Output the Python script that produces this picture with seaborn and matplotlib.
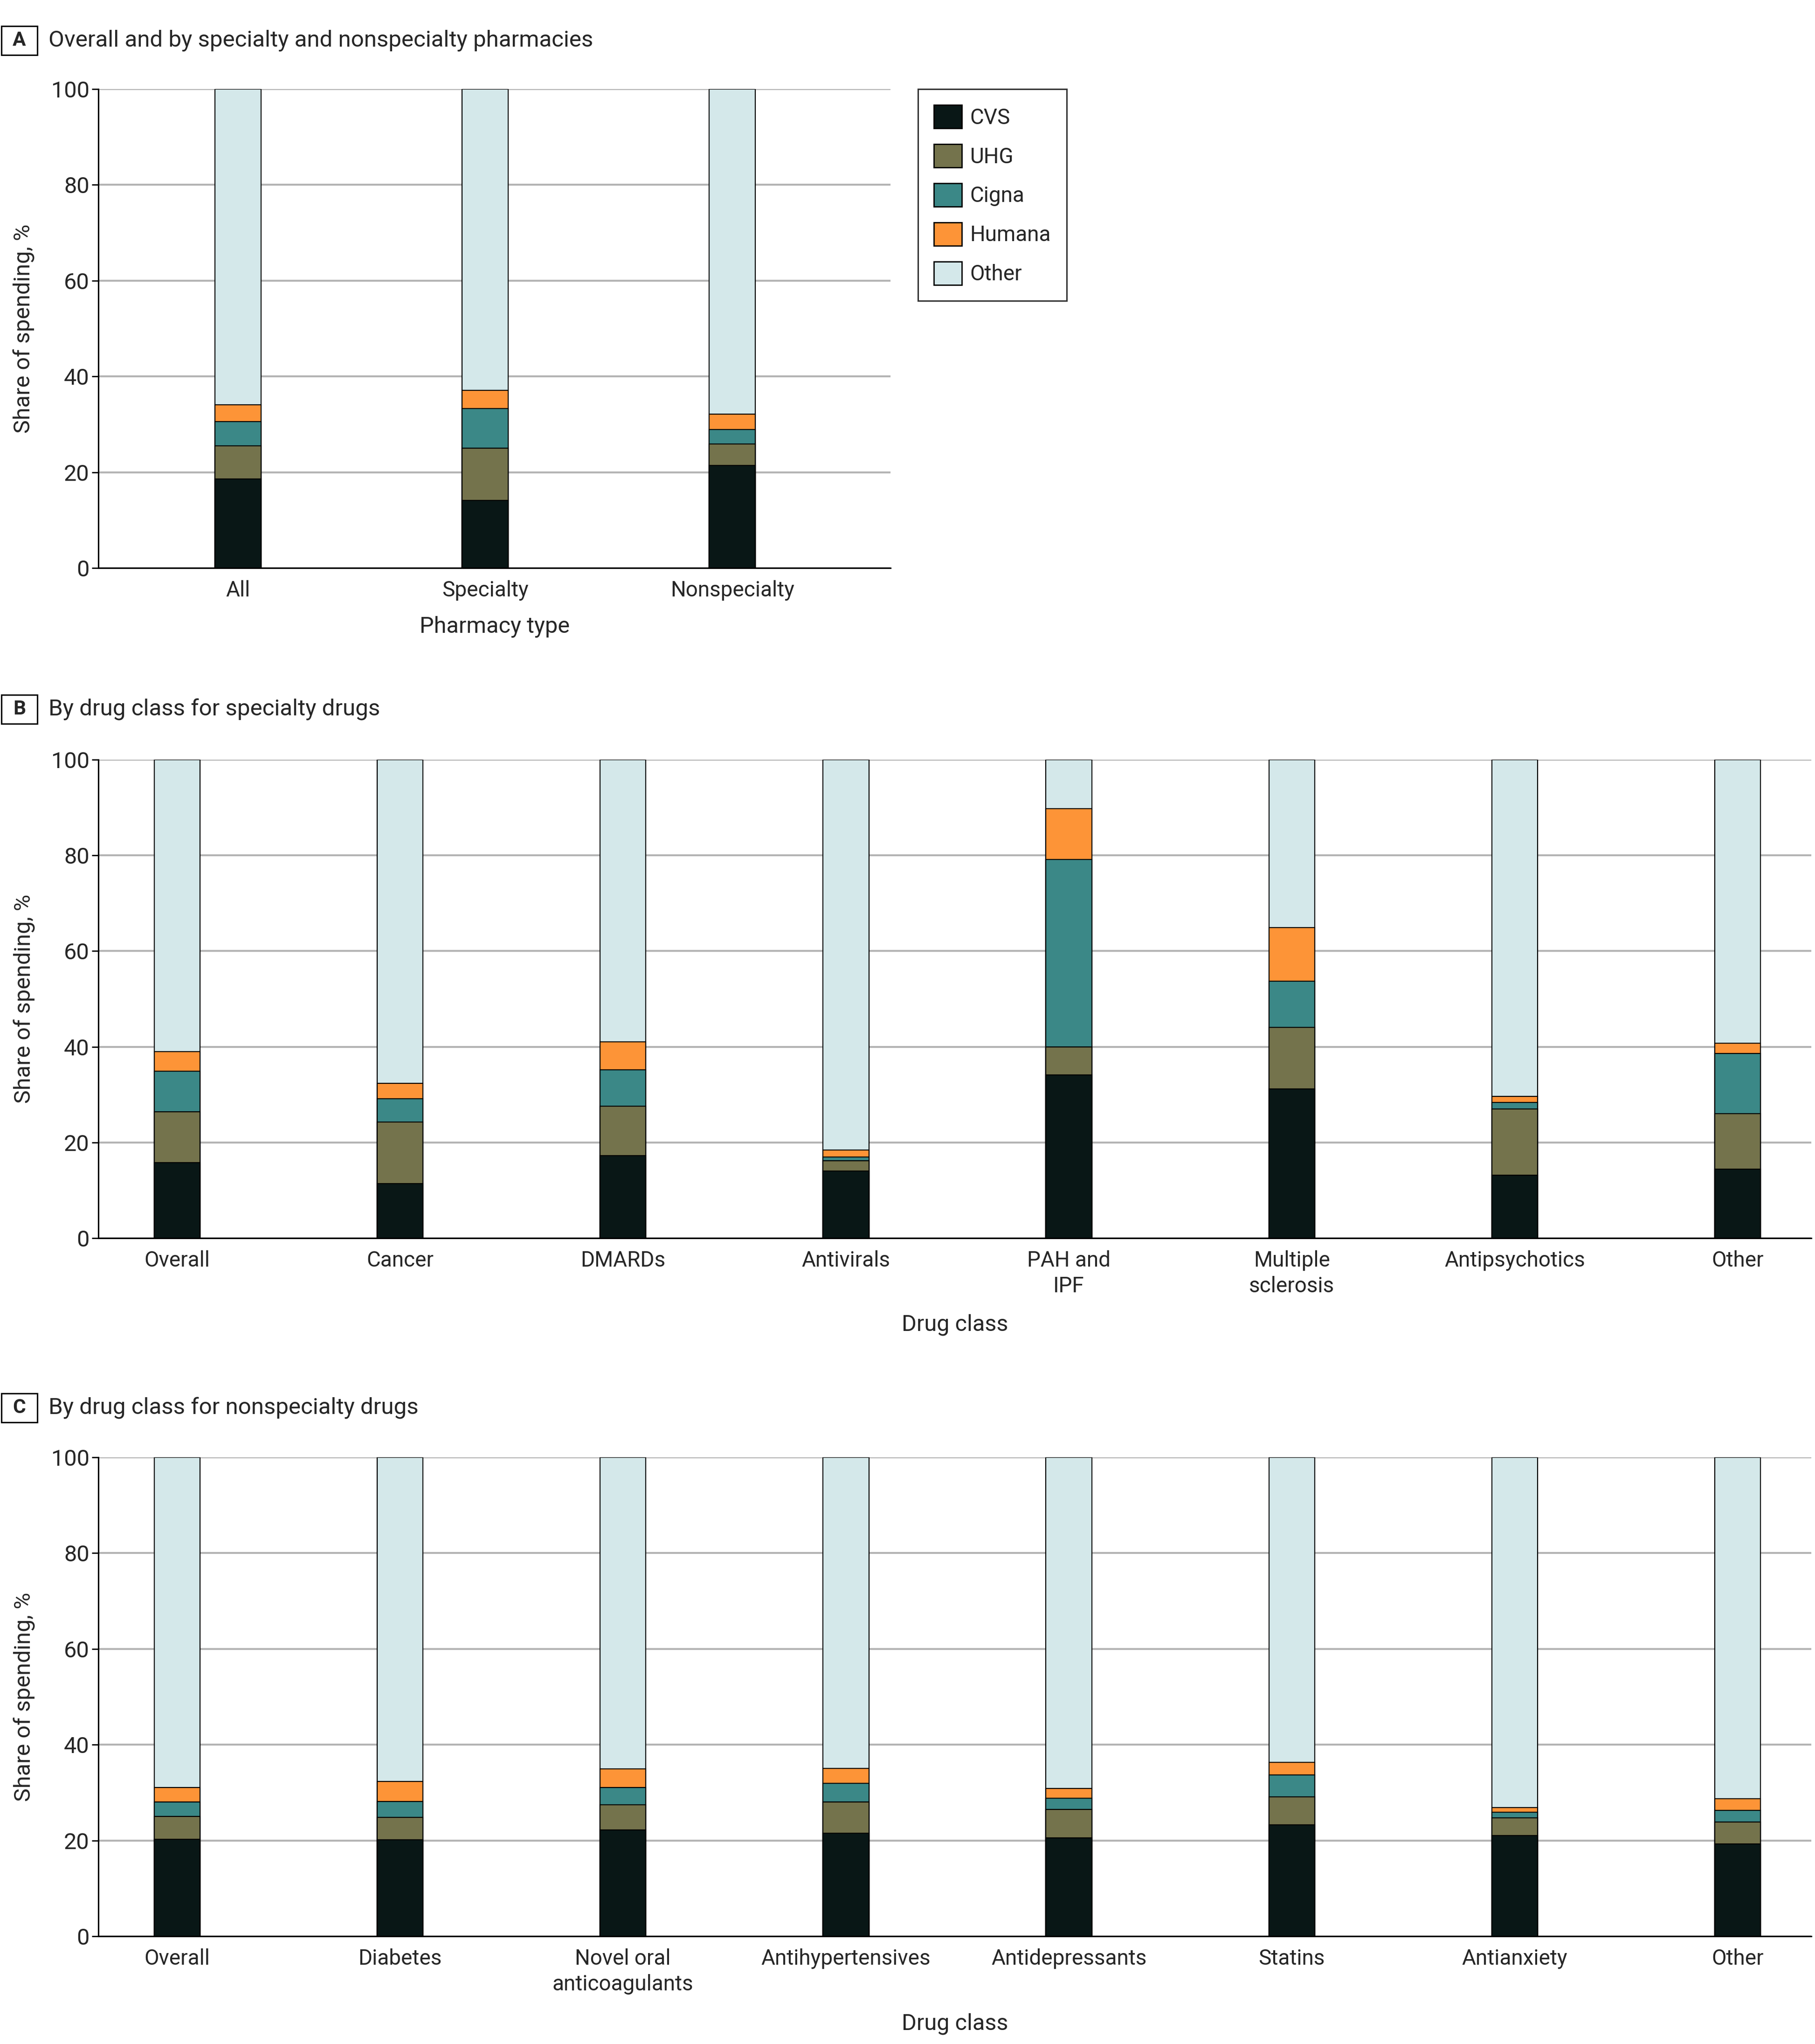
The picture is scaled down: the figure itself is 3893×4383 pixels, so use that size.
import numpy as np
import pandas as pd
import matplotlib
matplotlib.use("Agg")
import matplotlib.pyplot as plt
import seaborn as sns
from matplotlib.patches import Patch, Rectangle

# ---------------- data ----------------
companies = ["CVS", "UHG", "Cigna", "Humana", "Other"]
company_colors = ["#091716", "#74734c", "#3b8887", "#fd9437", "#d4e8ea"]

a_categories = ["All", "Specialty", "Nonspecialty"]
a_cvs = [18.6, 14.1, 21.4]
a_uhg = [6.9, 10.9, 4.5]
a_cigna = [5.1, 8.3, 3.0]
a_humana = [3.5, 3.8, 3.2]
a_other = [65.9, 62.9, 67.9]

b_categories = ["Overall", "Cancer", "DMARDs", "Antivirals", "PAH and\nIPF",
                "Multiple\nsclerosis", "Antipsychotics", "Other"]
b_cvs = [15.8, 11.4, 17.3, 14.0, 34.1, 31.2, 13.2, 14.4]
b_uhg = [10.6, 12.9, 10.3, 2.2, 5.9, 12.9, 13.8, 11.6]
b_cigna = [8.5, 4.8, 7.6, 0.8, 39.1, 9.6, 1.4, 12.6]
b_humana = [4.1, 3.3, 5.8, 1.4, 10.7, 11.2, 1.2, 2.1]
b_other = [61.0, 67.6, 59.0, 81.6, 10.2, 35.1, 70.4, 59.3]

c_categories = ["Overall", "Diabetes", "Novel oral\nanticoagulants", "Antihypertensives",
                "Antidepressants", "Statins", "Antianxiety", "Other"]
c_cvs = [20.3, 20.2, 22.2, 21.5, 20.5, 23.3, 21.0, 19.3]
c_uhg = [4.7, 4.6, 5.3, 6.5, 6.0, 5.8, 3.7, 4.6]
c_cigna = [3.0, 3.3, 3.6, 3.9, 2.3, 4.6, 1.2, 2.4]
c_humana = [3.1, 4.2, 3.9, 3.2, 2.1, 2.6, 1.0, 2.4]
c_other = [68.9, 67.7, 65.0, 64.9, 69.1, 63.7, 73.1, 71.3]

y_ticks = [0, 20, 40, 60, 80, 100]

# ---------------- style ----------------
sns.set_theme(style="white")
plt.rcParams["font.family"] = ["Roboto", "DejaVu Sans"]
FS_TICK_X = 33
FS_TICK_Y = 35
FS_LABEL = 35
FS_TITLE = 35.5
FS_LEG = 33

W, H = 3893, 4383
DPI = 100
fig = plt.figure(figsize=(W / DPI, H / DPI), dpi=DPI)
fig.patch.set_facecolor("white")


def px_axes(left, top, right, bottom):
    return fig.add_axes([left / W, 1 - bottom / H, (right - left) / W, (bottom - top) / H])


def draw_panel(ax, categories, series, width, xlim):
    df = pd.DataFrame({"cat": categories})
    cum = np.zeros(len(categories))
    tops = []
    for s in series:
        cum = cum + np.array(s)
        tops.append(cum.copy())
    # draw from the top layer downward so lower segments overlay
    for i in range(len(series) - 1, -1, -1):
        d = df.copy()
        d["top"] = tops[i]
        sns.barplot(data=d, x="cat", y="top", order=categories, color=company_colors[i],
                    saturation=1, width=width, edgecolor="black", linewidth=1.6,
                    ax=ax, errorbar=None)
    ax.set_xlim(*xlim)
    ax.set_ylim(0, 100)
    ax.set_yticks(y_ticks)
    ax.set_yticklabels([str(t) for t in y_ticks])
    ax.set_axisbelow(True)
    ax.yaxis.grid(True, color="#b4b4b4", linewidth=3.0)
    ax.xaxis.grid(False)
    for sp in ["top", "right"]:
        ax.spines[sp].set_visible(False)
    for sp in ["left", "bottom"]:
        ax.spines[sp].set_color("black")
        ax.spines[sp].set_linewidth(2.2)
    ax.tick_params(axis="y", length=10, width=2, color="black", pad=4,
                   labelsize=FS_TICK_Y, left=True)
    ax.tick_params(axis="x", length=0, pad=19, labelsize=FS_TICK_X)
    ax.set_ylabel("Share of spending, %", fontsize=FS_LABEL)
    for lab in ax.get_xticklabels():
        lab.set_linespacing(1.3)
        lab.set_verticalalignment("top")


# Panel A
axA = px_axes(211, 191, 1910, 1218)
draw_panel(axA, a_categories, [a_cvs, a_uhg, a_cigna, a_humana, a_other], 0.186, (-0.565, 2.64))
axA.set_xlabel("Pharmacy type", fontsize=FS_LABEL)
axA.yaxis.set_label_coords(-0.080, 0.5)
axA.xaxis.set_label_coords(0.5, -0.10)

# Panel B
axB = px_axes(211, 1629, 3885, 2655)
draw_panel(axB, b_categories, [b_cvs, b_uhg, b_cigna, b_humana, b_other], 0.206, (-0.353, 7.33))
axB.set_xlabel("Drug class", fontsize=FS_LABEL)
axB.yaxis.set_label_coords(-0.0367, 0.5)
axB.xaxis.set_label_coords(0.5, -0.158)

# Panel C
axC = px_axes(211, 3125, 3885, 4152)
draw_panel(axC, c_categories, [c_cvs, c_uhg, c_cigna, c_humana, c_other], 0.206, (-0.353, 7.33))
axC.set_xlabel("Drug class", fontsize=FS_LABEL)
axC.yaxis.set_label_coords(-0.0367, 0.5)
axC.xaxis.set_label_coords(0.5, -0.160)

# Panel titles with boxed letters
titles = [("A", "Overall and by specialty and nonspecialty pharmacies", 87),
          ("B", "By drug class for specialty drugs", 1521),
          ("C", "By drug class for nonspecialty drugs", 3019)]
for letter, text, ypx in titles:
    box_w, box_h = 77, 62
    fig.patches.append(Rectangle((3 / W, 1 - (ypx + box_h / 2) / H), box_w / W, box_h / H,
                                 transform=fig.transFigure, fc="white", ec="black",
                                 lw=2.2, zorder=5))
    fig.text((3 + box_w / 2) / W, 1 - ypx / H, letter, fontsize=FS_TITLE - 5,
             fontweight="bold", ha="center", va="center", zorder=6)
    fig.text(104 / W, 1 - ypx / H, text, fontsize=FS_TITLE, ha="left", va="center")

# Legend
handles = [Patch(facecolor=c, edgecolor="black", linewidth=2, label=n)
           for n, c in zip(companies, company_colors)]
leg = fig.legend(handles=handles, loc="upper left", bbox_to_anchor=(1969 / W, 1 - 191 / H),
                 fontsize=FS_LEG, frameon=True, fancybox=False, edgecolor="black",
                 handlelength=1.3, handleheight=1.3, labelspacing=0.74,
                 borderpad=0.75, handletextpad=0.38, borderaxespad=0)
leg.get_frame().set_linewidth(2.2)

fig.savefig("out.png", dpi=DPI, facecolor="white")
